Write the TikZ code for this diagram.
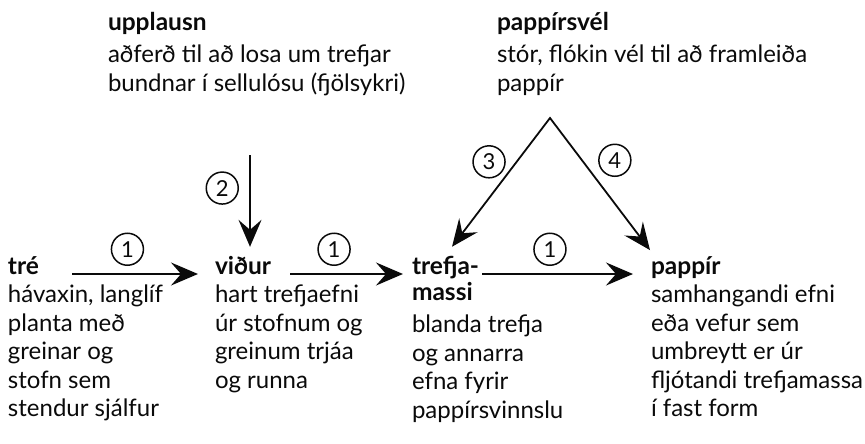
\documentclass[tikz,border=0pt]{standalone}
\usepackage{fontspec}
\setmainfont{Lato}
\usetikzlibrary{positioning, arrows.meta}
\definecolor{ink}{RGB}{10, 10, 10}
\tikzset{
    base/.style={
        text=ink,
        inner sep=0pt,
        outer sep=0pt
    },
    term/.style={
        base,
        anchor=base west,
        font=\fontsize{24.5}{26}\selectfont\bfseries
    },
    gloss/.style={
        base,
        anchor=north west,
        align=left,
        font=\fontsize{24}{28.5}\selectfont
    },
    num/.style={
        circle,
        draw=ink,
        line width=1.5pt,
        minimum size=32pt,
        inner sep=0pt,
        text=ink,
        font=\fontsize{22}{22}\selectfont
    },
    flow/.style={
        -{Stealth[length=27pt, width=23pt, inset=10pt]},
        line width=1.8pt,
        color=ink
    }
}

\begin{document}
\begin{tikzpicture}[x=1pt, y=-1pt]
  \useasboundingbox (0,0) rectangle (865,444);

  % terms
  \node[term] (tre) at (8,274) {tré};
  \node[term] (vidur) at (215,274) {viður};
  \node[term] (massi) at (412,274) {trefja-};
  \node[term] (massi2) at (412,300) {massi};
  \node[term] (pappir) at (651,274) {pappír};
  \node[term] (upplausn) at (108,31) {upplausn};
  \node[term] (vel) at (497,31) {pappírsvél};

  % glosses
  \node[gloss] (treb) at (8,283) {\strut hávaxin, langlíf\\planta með\\greinar og\\stofn sem\\stendur sjálfur};
  \node[gloss] (vidurb) at (215,283) {\strut hart trefjaefni\\úr stofnum og\\greinum trjáa\\og runna};
  \node[gloss] (massib) at (412,313) {\strut blanda trefja\\og annarra\\efna fyrir\\pappírsvinnslu};
  \node[gloss] (pappirb) at (651,283) {\strut samhangandi efni\\eða vefur sem\\umbreytt er úr\\fljótandi trefjamassa\\í fast form};
  \node[gloss] (upplausnb) at (108,43) {\strut aðferð til að losa um trefjar\\bundnar í sellulósu (fjölsykri)};
  \node[gloss] (velb) at (497,43) {\strut stór, flókin vél til að framleiða\\pappír};

  \coordinate (inn) at (250,155);
  \coordinate (apex) at (550,118);

  % processing steps
  \draw[flow] ([xshift=64pt]tre.base west) -- node[num, pos=0.44, above=8pt] {1} ([xshift=-17pt]vidur.base west);
  \draw[flow] ([xshift=75pt]vidur.base west) -- node[num, pos=0.39, above=8pt] {1} ([xshift=-9pt]massi.base west);
  \draw[flow] ([xshift=70pt]massi.base west) -- node[num, pos=0.45, above=8pt] {1} ([xshift=-18pt]pappir.base west);
  \draw[flow] (inn) -- node[num, pos=0.36, left=11pt] {2} ([xshift=35pt, yshift=9pt]vidur.north west);
  \draw[flow, {Stealth[length=27pt, width=23pt, inset=10pt]}-{Stealth[length=27pt, width=23pt, inset=10pt]}]
    ([xshift=40pt, yshift=9pt]massi.north west)
    -- node[num, pos=0.56, above left=1pt and 6pt] {3} (apex)
    -- node[num, pos=0.44, above right=4pt and 9pt] {4} ([xshift=-1pt, yshift=6pt]pappir.north west);
\end{tikzpicture}
\end{document}
